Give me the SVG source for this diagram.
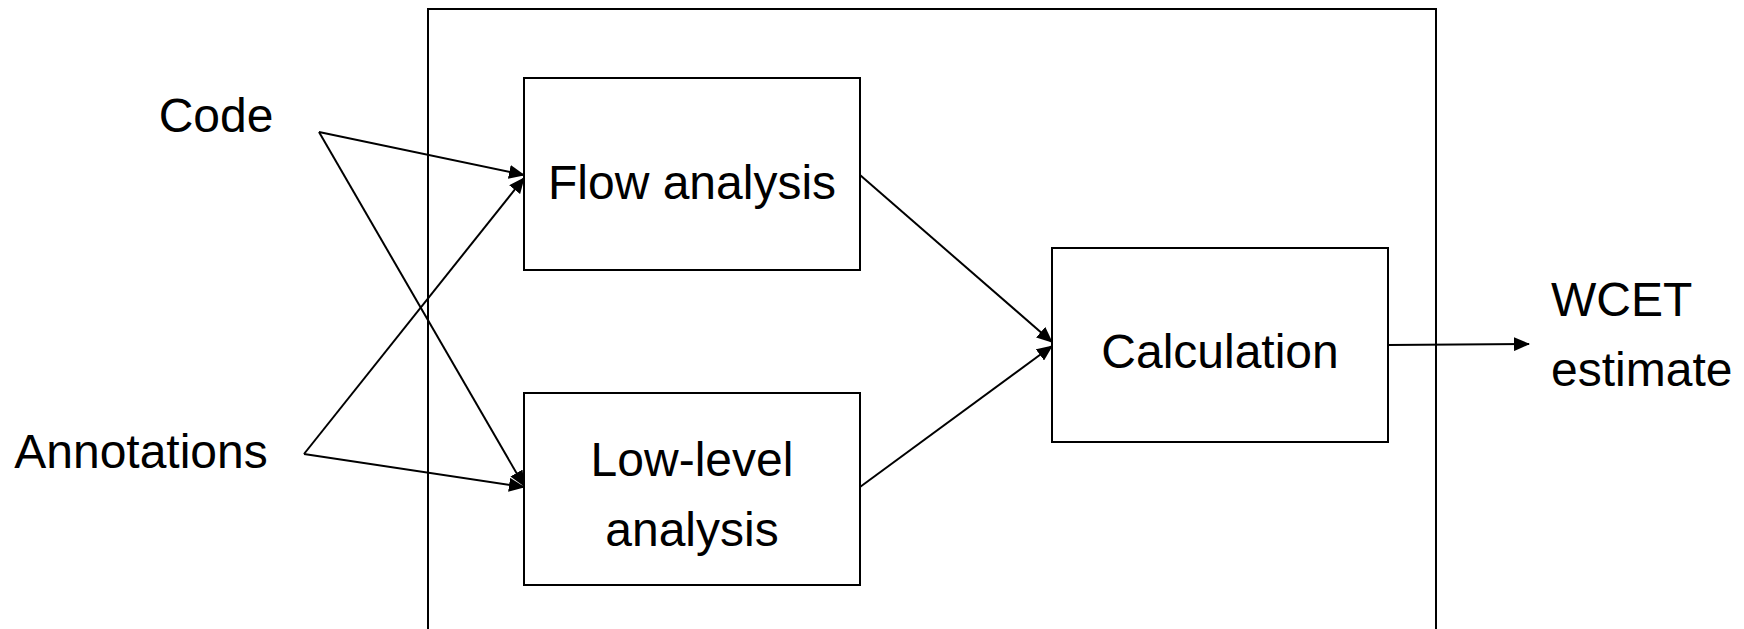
<svg xmlns="http://www.w3.org/2000/svg" width="1744" height="629" viewBox="0 0 1744 629">
<style>
.box{fill:#fff;stroke:#000;stroke-width:2}
.lbl{font-family:"Liberation Sans",Arial,sans-serif;font-size:48px;fill:#000}
.c{text-anchor:middle}
.edge{stroke:#000;stroke-width:2;fill:none;marker-end:url(#ah)}
</style>
<defs>
<marker id="ah" markerUnits="userSpaceOnUse" markerWidth="16" markerHeight="14" viewBox="0 0 16 14" refX="15" refY="7" orient="auto">
<path d="M0,0 L16,7 L0,14 Z" fill="#000"/>
</marker>
</defs>
<rect width="1744" height="629" fill="#fff"/>
<g id="container"><rect class="box" x="428" y="9" width="1008" height="640"/></g>
<g id="code"><text class="lbl c" x="216" y="132">Code</text></g>
<g id="annotations"><text class="lbl c" x="141" y="468">Annotations</text></g>
<g id="flow"><rect class="box" x="524" y="78" width="336" height="192"/><text class="lbl c" x="692" y="199">Flow analysis</text></g>
<g id="lowlevel"><rect class="box" x="524" y="393" width="336" height="192"/><text class="lbl c" x="692" y="476">Low-level</text><text class="lbl c" x="692" y="546">analysis</text></g>
<g id="calc"><rect class="box" x="1052" y="248" width="336" height="194"/><text class="lbl c" x="1220" y="368">Calculation</text></g>
<g id="wcet"><text class="lbl" x="1551" y="316">WCET</text><text class="lbl" x="1551" y="386">estimate</text></g>
<g id="connectors">
<line class="edge" x1="319" y1="132" x2="524" y2="175"/>
<line class="edge" x1="319" y1="132" x2="524" y2="486"/>
<line class="edge" x1="304" y1="454" x2="524" y2="178"/>
<line class="edge" x1="304" y1="454" x2="524" y2="487"/>
<line class="edge" x1="860" y1="175" x2="1052" y2="342"/>
<line class="edge" x1="860" y1="487" x2="1052" y2="346"/>
<line class="edge" x1="1388" y1="345" x2="1529" y2="344"/>
</g>
</svg>
